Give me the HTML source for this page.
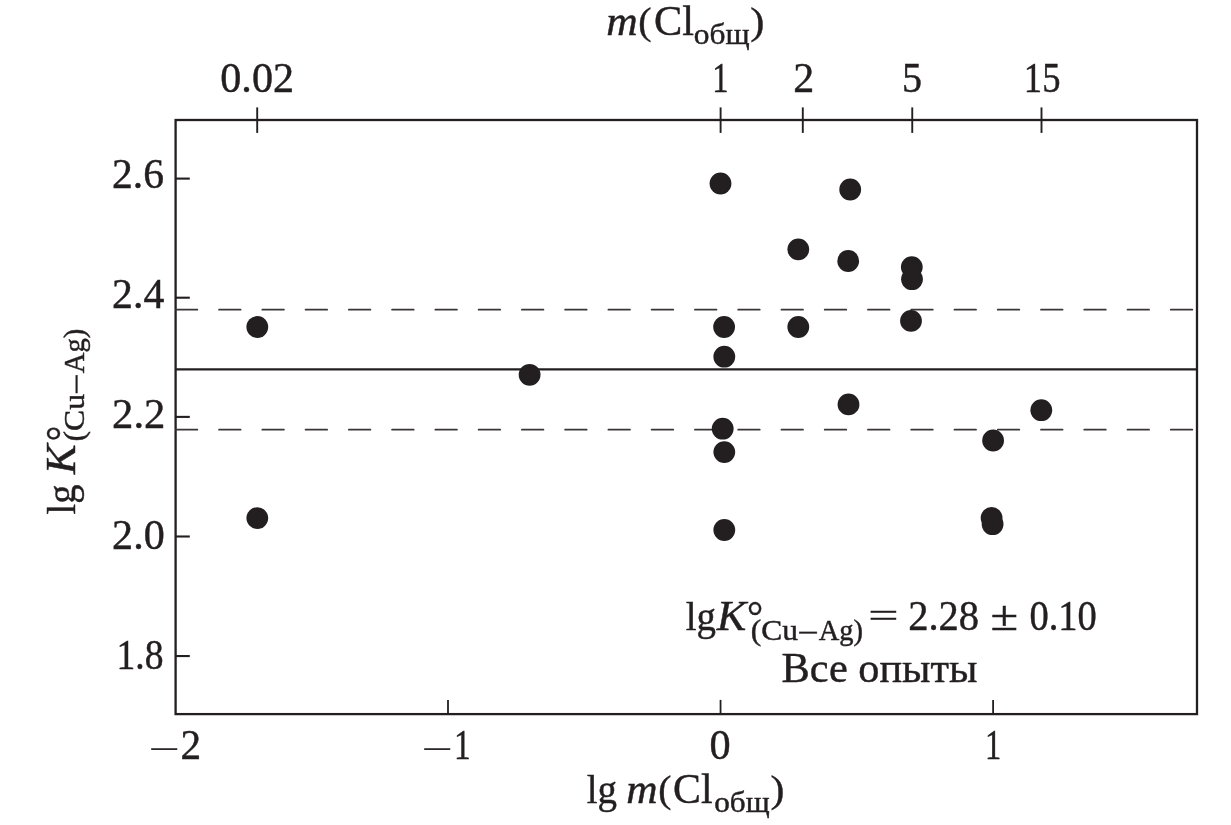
<!DOCTYPE html>
<html lang="ru"><head><meta charset="utf-8"><title>lg K (Cu-Ag) vs lg m(Cl)</title>
<style>html,body{margin:0;padding:0;background:#fff}body{width:1231px;height:825px;overflow:hidden}svg{display:block}text{font-family:"Liberation Serif","Times New Roman",serif;fill:#231f20;stroke:#231f20;stroke-width:.45px}.i{font-style:italic}</style></head><body>
<svg width="1231" height="825" viewBox="0 0 1231 825">
<rect width="1231" height="825" fill="#fff"/>
<rect x="175.60" y="120.00" width="1021.40" height="594.10" fill="none" stroke="#231f20" stroke-width="2.3"/>
<g stroke="#231f20" stroke-width="2.1">
<line x1="257.20" y1="107.4" x2="257.20" y2="132.9" stroke-width="1.9"/>
<line x1="720.60" y1="107.4" x2="720.60" y2="132.9" stroke-width="1.9"/>
<line x1="802.80" y1="107.4" x2="802.80" y2="132.9" stroke-width="1.9"/>
<line x1="912.25" y1="107.4" x2="912.25" y2="132.9" stroke-width="1.9"/>
<line x1="1041.50" y1="107.4" x2="1041.50" y2="132.9" stroke-width="1.9"/>
<line x1="448.00" y1="699.9" x2="448.00" y2="714" stroke-width="1.8"/>
<line x1="720.55" y1="699.9" x2="720.55" y2="714" stroke-width="1.8"/>
<line x1="993.10" y1="699.9" x2="993.10" y2="714" stroke-width="1.8"/>
<line x1="175.6" y1="178.60" x2="189.8" y2="178.60"/>
<line x1="175.6" y1="297.70" x2="189.8" y2="297.70"/>
<line x1="175.6" y1="416.90" x2="189.8" y2="416.90"/>
<line x1="175.6" y1="536.50" x2="189.8" y2="536.50"/>
<line x1="175.6" y1="656.05" x2="189.8" y2="656.05"/>
</g>
<line x1="175.60" y1="369.4" x2="1197.00" y2="369.4" stroke="#231f20" stroke-width="2.4"/>
<line x1="175.8" y1="309.70" x2="1195.50" y2="309.70" stroke="#3a3637" stroke-width="1.75" stroke-linecap="round" stroke-dasharray="21.55 21.71"/>
<line x1="175.8" y1="429.70" x2="1195.50" y2="429.70" stroke="#3a3637" stroke-width="1.75" stroke-linecap="round" stroke-dasharray="21.55 21.71"/>
<g fill="#231f20">
<circle cx="257.3" cy="327.0" r="10.9"/>
<circle cx="257.3" cy="518.1" r="10.9"/>
<circle cx="529.6" cy="374.8" r="10.9"/>
<circle cx="720.5" cy="183.5" r="10.9"/>
<circle cx="724.1" cy="327.0" r="10.9"/>
<circle cx="724.3" cy="356.7" r="10.9"/>
<circle cx="722.7" cy="428.7" r="10.9"/>
<circle cx="724.3" cy="452.1" r="10.9"/>
<circle cx="724.3" cy="530.0" r="10.9"/>
<circle cx="798.3" cy="249.4" r="10.9"/>
<circle cx="798.3" cy="327.0" r="10.9"/>
<circle cx="850.2" cy="189.5" r="10.9"/>
<circle cx="848.2" cy="261.0" r="10.9"/>
<circle cx="848.5" cy="404.4" r="10.9"/>
<circle cx="911.8" cy="267.1" r="10.9"/>
<circle cx="912.0" cy="279.2" r="10.9"/>
<circle cx="911.0" cy="320.9" r="10.9"/>
<circle cx="993.1" cy="440.5" r="10.9"/>
<circle cx="991.6" cy="517.9" r="10.9"/>
<circle cx="992.6" cy="524.2" r="10.9"/>
<circle cx="1041.3" cy="410.2" r="10.9"/>
</g>
<g>
<text transform="translate(112.10 187.80) scale(1.0014 1)" font-size="41.5">2.6</text>
<text transform="translate(112.10 307.80) scale(1.0054 1)" font-size="41.5">2.4</text>
<text transform="translate(112.07 427.80) scale(1.0281 1)" font-size="41.5">2.2</text>
<text transform="translate(112.08 549.10) scale(1.0146 1)" font-size="41.5">2.0</text>
<text transform="translate(116.56 669.20) scale(0.9063 1)" font-size="41.5">1.8</text>
</g>
<g>
<g><text transform="translate(149.24 758.60) scale(1.3160 0.72)" font-size="41.5">−</text><text transform="translate(180.61 758.60) scale(0.9938 1)" font-size="41.5">2</text></g>
<g><text transform="translate(422.24 758.60) scale(1.3160 0.72)" font-size="41.5">−</text><text transform="translate(453.90 759.00) scale(0.8032 1)" font-size="41.5">1</text></g>
<text transform="translate(709.58 759.00) scale(1.0189 1)" font-size="41.5">0</text>
<text transform="translate(985.06 759.00) scale(0.7839 1)" font-size="41.5">1</text>
</g>
<g>
<text transform="translate(220.28 92.00) scale(1.0161 1)" font-size="41.5">0.02</text>
<text transform="translate(712.16 92.00) scale(0.7839 1)" font-size="41.5">1</text>
<text transform="translate(793.19 92.00) scale(1.0110 1)" font-size="41.5">2</text>
<text transform="translate(902.02 92.00) scale(0.9653 1)" font-size="41.5">5</text>
<text transform="translate(1023.84 92.00) scale(0.8820 1)" font-size="41.5">15</text>
</g>
<g><text transform="translate(606.14 34.90) scale(1.0501 1)" font-size="41.5" class="i">m</text><text transform="translate(638.36 33.80) scale(0.9596 0.915)" font-size="41.5">(</text><text transform="translate(653.88 34.90) scale(1.0212 1)" font-size="41.5">Cl</text><text transform="translate(693.82 43.80) scale(1.0894 1)" font-size="28.8">общ</text><text transform="translate(750.27 33.80) scale(1.0251 0.915)" font-size="41.5">)</text></g>
<g><text transform="translate(586.69 802.80) scale(0.9392 0.955)" font-size="41.5">lg</text> <text transform="translate(626.14 802.80) scale(1.0465 1)" font-size="41.5" class="i">m</text><text transform="translate(658.17 801.70) scale(0.9510 0.915)" font-size="41.5">(</text><text transform="translate(672.99 802.80) scale(1.0078 1)" font-size="41.5">Cl</text><text transform="translate(714.23 811.60) scale(1.0813 1)" font-size="28.8">общ</text><text transform="translate(770.39 801.70) scale(1.0069 0.915)" font-size="41.5">)</text></g>
<g><text transform="translate(685.69 629.90) scale(0.9360 0.955)" font-size="41.5">lg</text><text transform="translate(716.79 629.90) scale(1.0664 1)" font-size="41.5" class="i">K</text><text transform="translate(747.11 629.90) scale(0.9716 1)" font-size="41.5">°</text><text transform="translate(750.82 639.60) scale(1.0944 1)" font-size="28.8">(Cu</text><text transform="translate(799.44 639.60) scale(1.1895 1)" font-size="28.8">–</text><text transform="translate(818.80 639.60) scale(0.9875 1)" font-size="28.8">Ag)</text> <text transform="translate(868.28 626.76) scale(1.2954 0.81)" font-size="41.5">=</text> <text transform="translate(908.13 629.90) scale(0.9767 1)" font-size="41.5">2.28</text> <text transform="translate(990.43 629.90) scale(1.2138 1)" font-size="41.5">±</text> <text transform="translate(1029.40 629.90) scale(0.9282 1)" font-size="41.5">0.10</text></g>
<g><text transform="translate(781.44 681.50) scale(1.0196 1)" font-size="41.5">Все опыты</text></g>
<g transform="translate(74.9 513.8) rotate(-90)"><text transform="translate(-0.60 0.00) scale(0.9263 0.955)" font-size="41.5">lg</text> <text transform="translate(39.60 0.00) scale(1.0762 1)" font-size="41.5" class="i">K</text><text transform="translate(72.59 0.00) scale(0.9330 1)" font-size="41.5">°</text><text transform="translate(72.31 9.40) scale(1.0992 1)" font-size="28.8">(Cu</text><text transform="translate(121.14 9.40) scale(1.1961 1)" font-size="28.8">–</text><text transform="translate(140.60 9.40) scale(0.9920 1)" font-size="28.8">Ag)</text></g>
</svg></body></html>
